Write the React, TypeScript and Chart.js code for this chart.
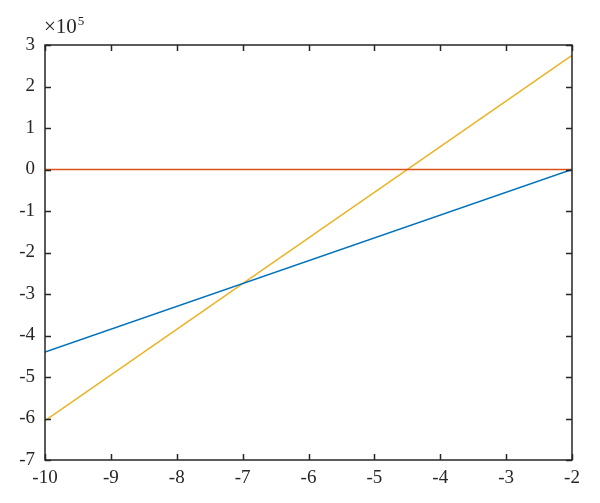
import React, { useEffect, useRef } from "react";
import { Chart, registerables } from "chart.js";

Chart.register(...registerables);

const xEnds = [-10, -2];
const blueY = [-440000, 0];
const redY = [0, 0];
const yellowY = [-605000, 275000];
const xTicks = [-10, -9, -8, -7, -6, -5, -4, -3, -2];
const yTicks = [-7, -6, -5, -4, -3, -2, -1, 0, 1, 2, 3];
const exponentLabel = "×10";
const exponentPower = "5";

const FONT = "'Liberation Serif', 'DejaVu Serif', serif";
const AXIS_COLOR = "#262626";

const boxPlugin = {
  id: "matlabBox",
  afterDatasetsDraw(chart: any) {
    const { ctx, chartArea, scales } = chart;
    const { left, right, top, bottom } = chartArea;
    const tl = 6;
    ctx.save();
    ctx.strokeStyle = AXIS_COLOR;
    ctx.lineWidth = 1.5;
    ctx.beginPath();
    ctx.rect(left, top, right - left, bottom - top);
    ctx.stroke();
    ctx.beginPath();
    for (const v of xTicks) {
      const px = Math.round(scales.x.getPixelForValue(v)) + 0.5;
      ctx.moveTo(px, bottom);
      ctx.lineTo(px, bottom - tl);
      ctx.moveTo(px, top);
      ctx.lineTo(px, top + tl);
    }
    for (const v of yTicks) {
      const py = Math.round(scales.y.getPixelForValue(v * 1e5)) + 0.5;
      ctx.moveTo(left, py);
      ctx.lineTo(left + tl, py);
      ctx.moveTo(right, py);
      ctx.lineTo(right - tl, py);
    }
    ctx.stroke();
    ctx.fillStyle = AXIS_COLOR;
    ctx.textBaseline = "alphabetic";
    ctx.textAlign = "left";
    ctx.font = `21px ${FONT}`;
    const ex = left - 1;
    const ey = top - 12;
    ctx.fillText(exponentLabel, ex, ey);
    const w = ctx.measureText(exponentLabel).width;
    ctx.font = `13px ${FONT}`;
    ctx.fillText(exponentPower, ex + w + 1, ey - 8);
    ctx.restore();
  },
};

export default function App() {
  const ref = useRef<HTMLCanvasElement | null>(null);
  useEffect(() => {
    document.body.style.margin = "0";
    const mk = (ys: number[]) => xEnds.map((x, i) => ({ x, y: ys[i] }));
    const chart = new Chart(ref.current!, {
      type: "scatter",
      data: {
        datasets: [
          { data: mk(blueY), borderColor: "#0072BD", showLine: true, borderWidth: 1.5, pointRadius: 0 },
          { data: mk(redY), borderColor: "#D95319", showLine: true, borderWidth: 1.5, pointRadius: 0 },
          { data: mk(yellowY), borderColor: "#EDB120", showLine: true, borderWidth: 1.5, pointRadius: 0 },
        ],
      },
      options: {
        animation: false,
        responsive: false,
        maintainAspectRatio: false,
        layout: { padding: { left: 0, top: 45, right: 28, bottom: 0 } },
        plugins: { legend: { display: false }, tooltip: { enabled: false } },
        scales: {
          x: {
            type: "linear",
            min: -10,
            max: -2,
            afterBuildTicks: (s: any) => {
              s.ticks = xTicks.map((v) => ({ value: v }));
            },
            afterFit: (s: any) => {
              s.height = 43;
            },
            grid: { display: false, drawTicks: false },
            border: { display: false },
            ticks: {
              color: AXIS_COLOR,
              font: { family: FONT, size: 19 },
              padding: 7,
              maxRotation: 0,
              callback: (v: any) => String(v),
            },
          },
          y: {
            type: "linear",
            min: -700000,
            max: 300000,
            afterBuildTicks: (s: any) => {
              s.ticks = yTicks.map((v) => ({ value: v * 1e5 }));
            },
            afterFit: (s: any) => {
              s.width = 45;
            },
            grid: { display: false, drawTicks: false },
            border: { display: false },
            ticks: {
              color: AXIS_COLOR,
              font: { family: FONT, size: 19 },
              padding: 10,
              callback: (v: any) => String(Math.round(Number(v) / 1e5)),
            },
          },
        },
      },
      plugins: [boxPlugin],
    });
    return () => chart.destroy();
  }, []);
  return (
    <div style={{ position: "fixed", left: 0, top: 0, width: 600, height: 503, background: "#fff" }}>
      <canvas ref={ref} width={600} height={503} style={{ width: 600, height: 503 }} />
    </div>
  );
}
